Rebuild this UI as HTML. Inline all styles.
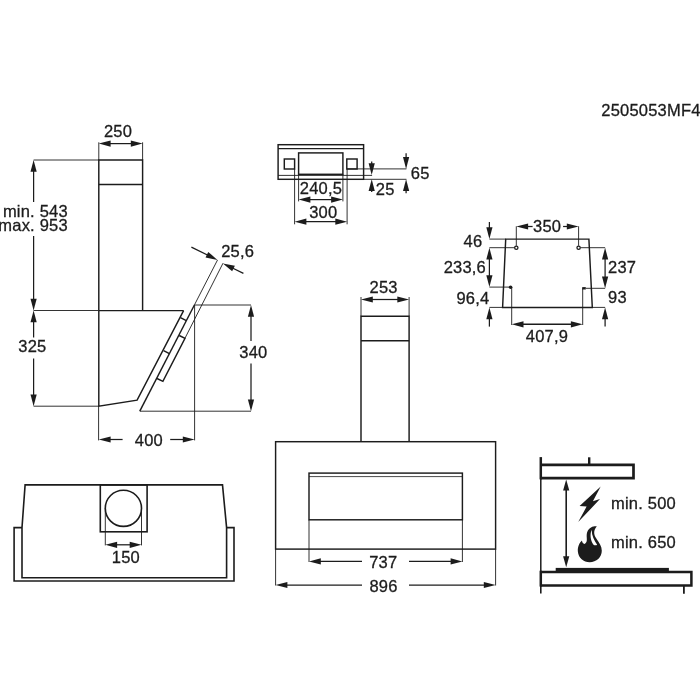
<!DOCTYPE html>
<html><head><meta charset="utf-8"><title>Dimensions 2505053MF4</title>
<style>
html,body{margin:0;padding:0;background:#fff;}
body{width:700px;height:700px;overflow:hidden;}
svg{display:block;will-change:transform;}
svg text{font-family:"Liberation Sans",Arial,Helvetica,sans-serif;fill:#1c1c1c;stroke:#1c1c1c;stroke-width:0.3px;letter-spacing:0.2px;}
</style></head><body>
<svg width="700" height="700" viewBox="0 0 700 700">
<rect x="0" y="0" width="700" height="700" fill="#fff"/>
<text x="601.3" y="115.5" font-size="16.5" text-anchor="start">2505053MF4</text>
<path d="M98.8 310.6 L98.8 160 L142.6 160 L142.6 310.6" fill="none" stroke="#1c1c1c" stroke-width="1.45" stroke-linejoin="miter"/>
<line x1="98.8" y1="184.4" x2="142.6" y2="184.4" stroke="#1c1c1c" stroke-width="1.45" stroke-linecap="butt"/>
<path d="M98.8 310.6 L183.6 310.6" fill="none" stroke="#1c1c1c" stroke-width="1.45" stroke-linejoin="miter"/>
<path d="M98.8 310.6 L98.8 406.2 L137.1 400.2 L183.6 310.6" fill="none" stroke="#1c1c1c" stroke-width="1.45" stroke-linejoin="miter"/>
<path d="M194.4 305 L139.8 411.2" fill="none" stroke="#1c1c1c" stroke-width="1.45" stroke-linejoin="miter"/>
<path d="M180.5 317.6 L186.3 320.7" fill="none" stroke="#1c1c1c" stroke-width="1.45" stroke-linejoin="miter"/>
<path d="M163.6 350.6 L169.4 353.7" fill="none" stroke="#1c1c1c" stroke-width="1.45" stroke-linejoin="miter"/>
<path d="M179.2 335.5 L185.0 338.4 L162.9 381.4 L157.0 378.5" fill="none" stroke="#1c1c1c" stroke-width="1.45" stroke-linejoin="miter"/>
<line x1="217.5" y1="260" x2="194.4" y2="305" stroke="#1c1c1c" stroke-width="0.9" stroke-linecap="butt"/>
<line x1="223" y1="263.2" x2="185.0" y2="338.2" stroke="#1c1c1c" stroke-width="0.9" stroke-linecap="butt"/>
<line x1="191.4" y1="247.1" x2="209.02" y2="255.74" stroke="#1c1c1c" stroke-width="1.25" stroke-linecap="butt"/>
<polygon points="217.50,259.90 205.54,257.49 208.27,251.92" fill="#1c1c1c"/>
<line x1="243.4" y1="273.4" x2="231.38" y2="267.54" stroke="#1c1c1c" stroke-width="1.25" stroke-linecap="butt"/>
<polygon points="222.90,263.40 234.86,265.79 232.15,271.36" fill="#1c1c1c"/>
<text x="221.2" y="256.9" font-size="16.5" text-anchor="start">25,6</text>
<line x1="98.8" y1="142.3" x2="98.8" y2="160" stroke="#1c1c1c" stroke-width="0.9" stroke-linecap="butt"/>
<line x1="142.6" y1="142.3" x2="142.6" y2="160" stroke="#1c1c1c" stroke-width="0.9" stroke-linecap="butt"/>
<line x1="108.24" y1="143.6" x2="133.16" y2="143.6" stroke="#1c1c1c" stroke-width="1.25" stroke-linecap="butt"/>
<polygon points="142.60,143.60 130.80,146.70 130.80,140.50" fill="#1c1c1c"/>
<polygon points="98.80,143.60 110.60,140.50 110.60,146.70" fill="#1c1c1c"/>
<text x="118.0" y="136.6" font-size="16.5" text-anchor="middle">250</text>
<line x1="33.6" y1="160" x2="98.8" y2="160" stroke="#1c1c1c" stroke-width="0.9" stroke-linecap="butt"/>
<line x1="33.6" y1="310.5" x2="98.8" y2="310.5" stroke="#1c1c1c" stroke-width="0.9" stroke-linecap="butt"/>
<line x1="33.6" y1="406.2" x2="98.8" y2="406.2" stroke="#1c1c1c" stroke-width="0.9" stroke-linecap="butt"/>
<line x1="33.6" y1="202" x2="33.6" y2="169.44" stroke="#1c1c1c" stroke-width="1.25" stroke-linecap="butt"/>
<polygon points="33.60,160.00 36.70,171.80 30.50,171.80" fill="#1c1c1c"/>
<line x1="33.6" y1="236" x2="33.6" y2="301.06" stroke="#1c1c1c" stroke-width="1.25" stroke-linecap="butt"/>
<polygon points="33.60,310.50 30.50,298.70 36.70,298.70" fill="#1c1c1c"/>
<line x1="33.6" y1="337.5" x2="33.6" y2="319.94" stroke="#1c1c1c" stroke-width="1.25" stroke-linecap="butt"/>
<polygon points="33.60,310.50 36.70,322.30 30.50,322.30" fill="#1c1c1c"/>
<line x1="33.6" y1="358.5" x2="33.6" y2="396.76" stroke="#1c1c1c" stroke-width="1.25" stroke-linecap="butt"/>
<polygon points="33.60,406.20 30.50,394.40 36.70,394.40" fill="#1c1c1c"/>
<text x="67.8" y="216.6" font-size="16.5" text-anchor="end">min. 543</text>
<text x="67.8" y="230.8" font-size="16.5" text-anchor="end">max. 953</text>
<text x="46.4" y="352.4" font-size="16.5" text-anchor="end">325</text>
<line x1="98.6" y1="406.2" x2="98.6" y2="440.4" stroke="#1c1c1c" stroke-width="0.9" stroke-linecap="butt"/>
<line x1="194.6" y1="305" x2="194.6" y2="440.4" stroke="#1c1c1c" stroke-width="0.9" stroke-linecap="butt"/>
<line x1="122.6" y1="439.5" x2="108.24" y2="439.5" stroke="#1c1c1c" stroke-width="1.25" stroke-linecap="butt"/>
<polygon points="98.80,439.50 110.60,436.40 110.60,442.60" fill="#1c1c1c"/>
<line x1="170.2" y1="439.5" x2="185.16" y2="439.5" stroke="#1c1c1c" stroke-width="1.25" stroke-linecap="butt"/>
<polygon points="194.60,439.50 182.80,442.60 182.80,436.40" fill="#1c1c1c"/>
<text x="148.9" y="445.5" font-size="16.5" text-anchor="middle">400</text>
<line x1="194.6" y1="305" x2="251" y2="305" stroke="#1c1c1c" stroke-width="0.9" stroke-linecap="butt"/>
<line x1="139.8" y1="411.2" x2="251" y2="411.2" stroke="#1c1c1c" stroke-width="0.9" stroke-linecap="butt"/>
<line x1="251" y1="341" x2="251.0" y2="314.44" stroke="#1c1c1c" stroke-width="1.25" stroke-linecap="butt"/>
<polygon points="251.00,305.00 254.10,316.80 247.90,316.80" fill="#1c1c1c"/>
<line x1="251" y1="363.6" x2="251.0" y2="401.76" stroke="#1c1c1c" stroke-width="1.25" stroke-linecap="butt"/>
<polygon points="251.00,411.20 247.90,399.40 254.10,399.40" fill="#1c1c1c"/>
<text x="253.4" y="358.4" font-size="16.5" text-anchor="middle">340</text>
<rect x="278.1" y="144.7" width="85.5" height="34.6" fill="none" stroke="#1c1c1c" stroke-width="1.45"/>
<line x1="278.1" y1="148.6" x2="363.6" y2="148.6" stroke="#1c1c1c" stroke-width="1.1" stroke-linecap="butt"/>
<line x1="278.1" y1="175.4" x2="372.1" y2="175.4" stroke="#1c1c1c" stroke-width="0.9" stroke-linecap="butt"/>
<rect x="298.6" y="152.9" width="44.3" height="21.4" fill="none" stroke="#1c1c1c" stroke-width="1.45"/>
<rect x="284.3" y="159" width="10.3" height="10" fill="none" stroke="#1c1c1c" stroke-width="1.45"/>
<rect x="346.8" y="159" width="10.3" height="10" fill="none" stroke="#1c1c1c" stroke-width="1.45"/>
<line x1="298.6" y1="174.3" x2="298.6" y2="201.4" stroke="#1c1c1c" stroke-width="0.9" stroke-linecap="butt"/>
<line x1="342.9" y1="174.3" x2="342.9" y2="201.4" stroke="#1c1c1c" stroke-width="0.9" stroke-linecap="butt"/>
<line x1="294.6" y1="169" x2="294.6" y2="224.3" stroke="#1c1c1c" stroke-width="0.9" stroke-linecap="butt"/>
<line x1="347.1" y1="169" x2="347.1" y2="224.3" stroke="#1c1c1c" stroke-width="0.9" stroke-linecap="butt"/>
<line x1="308.04" y1="199.6" x2="333.46" y2="199.6" stroke="#1c1c1c" stroke-width="1.25" stroke-linecap="butt"/>
<polygon points="342.90,199.60 331.10,202.70 331.10,196.50" fill="#1c1c1c"/>
<polygon points="298.60,199.60 310.40,196.50 310.40,202.70" fill="#1c1c1c"/>
<line x1="304.04" y1="221.7" x2="337.66" y2="221.7" stroke="#1c1c1c" stroke-width="1.25" stroke-linecap="butt"/>
<polygon points="347.10,221.70 335.30,224.80 335.30,218.60" fill="#1c1c1c"/>
<polygon points="294.60,221.70 306.40,218.60 306.40,224.80" fill="#1c1c1c"/>
<text x="320.9" y="194.3" font-size="16.5" text-anchor="middle">240,5</text>
<text x="323.2" y="217.9" font-size="16.5" text-anchor="middle">300</text>
<line x1="347" y1="168.9" x2="406.4" y2="168.9" stroke="#1c1c1c" stroke-width="0.9" stroke-linecap="butt"/>
<line x1="363.6" y1="179.3" x2="406.4" y2="179.3" stroke="#1c1c1c" stroke-width="0.9" stroke-linecap="butt"/>
<line x1="371.7" y1="161.4" x2="371.7" y2="165.56" stroke="#1c1c1c" stroke-width="1.25" stroke-linecap="butt"/>
<polygon points="371.70,175.00 368.60,163.20 374.80,163.20" fill="#1c1c1c"/>
<line x1="371.7" y1="192.1" x2="371.7" y2="188.74" stroke="#1c1c1c" stroke-width="1.25" stroke-linecap="butt"/>
<polygon points="371.70,179.30 374.80,191.10 368.60,191.10" fill="#1c1c1c"/>
<line x1="406.1" y1="153.3" x2="406.1" y2="159.46" stroke="#1c1c1c" stroke-width="1.25" stroke-linecap="butt"/>
<polygon points="406.10,168.90 403.00,157.10 409.20,157.10" fill="#1c1c1c"/>
<line x1="406.1" y1="193.3" x2="406.1" y2="188.74" stroke="#1c1c1c" stroke-width="1.25" stroke-linecap="butt"/>
<polygon points="406.10,179.30 409.20,191.10 403.00,191.10" fill="#1c1c1c"/>
<text x="410.8" y="178.7" font-size="16.5" text-anchor="start">65</text>
<text x="375.8" y="194.7" font-size="16.5" text-anchor="start">25</text>
<path d="M502.6 307.4 L505.7 239.1 L588.9 239.1 L592.3 307.4 Z" fill="none" stroke="#1c1c1c" stroke-width="1.45" stroke-linejoin="miter"/>
<line x1="489.4" y1="239.1" x2="505.7" y2="239.1" stroke="#1c1c1c" stroke-width="0.9" stroke-linecap="butt"/>
<line x1="489.4" y1="247.7" x2="514.3" y2="247.7" stroke="#1c1c1c" stroke-width="0.9" stroke-linecap="butt"/>
<line x1="489.4" y1="287.1" x2="510.3" y2="287.1" stroke="#1c1c1c" stroke-width="0.9" stroke-linecap="butt"/>
<line x1="489.4" y1="307.4" x2="502.6" y2="307.4" stroke="#1c1c1c" stroke-width="0.9" stroke-linecap="butt"/>
<circle cx="516.3" cy="247.7" r="1.65" fill="#fff" stroke="#1c1c1c" stroke-width="1.3"/>
<circle cx="578.6" cy="247.7" r="1.65" fill="#fff" stroke="#1c1c1c" stroke-width="1.3"/>
<circle cx="510.6" cy="287.3" r="1.8" fill="#1c1c1c"/>
<line x1="582.2" y1="288.3" x2="585.8" y2="288.3" stroke="#1c1c1c" stroke-width="2.4" stroke-linecap="butt"/>
<line x1="511.7" y1="287.3" x2="511.7" y2="325" stroke="#1c1c1c" stroke-width="0.9" stroke-linecap="butt"/>
<line x1="582.7" y1="288.3" x2="582.7" y2="325" stroke="#1c1c1c" stroke-width="0.9" stroke-linecap="butt"/>
<line x1="516.3" y1="245.8" x2="516.3" y2="226.3" stroke="#1c1c1c" stroke-width="0.9" stroke-linecap="butt"/>
<line x1="578.6" y1="245.8" x2="578.6" y2="226.3" stroke="#1c1c1c" stroke-width="0.9" stroke-linecap="butt"/>
<line x1="532.6" y1="226.5" x2="525.74" y2="226.5" stroke="#1c1c1c" stroke-width="1.25" stroke-linecap="butt"/>
<polygon points="516.30,226.50 528.10,223.40 528.10,229.60" fill="#1c1c1c"/>
<line x1="563.1" y1="226.5" x2="569.16" y2="226.5" stroke="#1c1c1c" stroke-width="1.25" stroke-linecap="butt"/>
<polygon points="578.60,226.50 566.80,229.60 566.80,223.40" fill="#1c1c1c"/>
<text x="547.1" y="232.3" font-size="16.5" text-anchor="middle">350</text>
<line x1="489.4" y1="222" x2="489.4" y2="229.66" stroke="#1c1c1c" stroke-width="1.25" stroke-linecap="butt"/>
<polygon points="489.40,239.10 486.30,227.30 492.50,227.30" fill="#1c1c1c"/>
<line x1="489.4" y1="257.14" x2="489.4" y2="277.66" stroke="#1c1c1c" stroke-width="1.25" stroke-linecap="butt"/>
<polygon points="489.40,287.10 486.30,275.30 492.50,275.30" fill="#1c1c1c"/>
<polygon points="489.40,247.70 492.50,259.50 486.30,259.50" fill="#1c1c1c"/>
<line x1="489.4" y1="326.6" x2="489.4" y2="316.84" stroke="#1c1c1c" stroke-width="1.25" stroke-linecap="butt"/>
<polygon points="489.40,307.40 492.50,319.20 486.30,319.20" fill="#1c1c1c"/>
<text x="482.3" y="246.9" font-size="16.5" text-anchor="end">46</text>
<text x="486" y="272.9" font-size="16.5" text-anchor="end">233,6</text>
<text x="489.3" y="303.8" font-size="16.5" text-anchor="end">96,4</text>
<line x1="580.5" y1="247.7" x2="605.1" y2="247.7" stroke="#1c1c1c" stroke-width="0.9" stroke-linecap="butt"/>
<line x1="586" y1="288.3" x2="605.1" y2="288.3" stroke="#1c1c1c" stroke-width="0.9" stroke-linecap="butt"/>
<line x1="592.3" y1="307.4" x2="605.1" y2="307.4" stroke="#1c1c1c" stroke-width="0.9" stroke-linecap="butt"/>
<line x1="605.1" y1="257.14" x2="605.1" y2="278.86" stroke="#1c1c1c" stroke-width="1.25" stroke-linecap="butt"/>
<polygon points="605.10,288.30 602.00,276.50 608.20,276.50" fill="#1c1c1c"/>
<polygon points="605.10,247.70 608.20,259.50 602.00,259.50" fill="#1c1c1c"/>
<line x1="605.1" y1="326.6" x2="605.1" y2="316.84" stroke="#1c1c1c" stroke-width="1.25" stroke-linecap="butt"/>
<polygon points="605.10,307.40 608.20,319.20 602.00,319.20" fill="#1c1c1c"/>
<text x="608" y="273" font-size="16.5" text-anchor="start">237</text>
<text x="608" y="302.6" font-size="16.5" text-anchor="start">93</text>
<line x1="521.14" y1="324.3" x2="573.26" y2="324.3" stroke="#1c1c1c" stroke-width="1.4" stroke-linecap="butt"/>
<polygon points="582.70,324.30 570.90,327.40 570.90,321.20" fill="#1c1c1c"/>
<polygon points="511.70,324.30 523.50,321.20 523.50,327.40" fill="#1c1c1c"/>
<text x="547" y="341.6" font-size="16.5" text-anchor="middle">407,9</text>
<path d="M361 441.7 L361 316.3 L409.1 316.3 L409.1 441.7" fill="none" stroke="#1c1c1c" stroke-width="1.45" stroke-linejoin="miter"/>
<line x1="361" y1="340.8" x2="409.1" y2="340.8" stroke="#1c1c1c" stroke-width="1.45" stroke-linecap="butt"/>
<rect x="275.6" y="441.7" width="220" height="107.4" fill="none" stroke="#1c1c1c" stroke-width="1.45"/>
<rect x="309" y="473.1" width="153.4" height="46.7" fill="none" stroke="#1c1c1c" stroke-width="1.45"/>
<line x1="309" y1="476.6" x2="462.4" y2="476.6" stroke="#1c1c1c" stroke-width="0.8" stroke-linecap="butt"/>
<line x1="361" y1="297" x2="361" y2="316.3" stroke="#1c1c1c" stroke-width="0.9" stroke-linecap="butt"/>
<line x1="409.1" y1="297" x2="409.1" y2="316.3" stroke="#1c1c1c" stroke-width="0.9" stroke-linecap="butt"/>
<line x1="370.44" y1="299.5" x2="399.66" y2="299.5" stroke="#1c1c1c" stroke-width="1.25" stroke-linecap="butt"/>
<polygon points="409.10,299.50 397.30,302.60 397.30,296.40" fill="#1c1c1c"/>
<polygon points="361.00,299.50 372.80,296.40 372.80,302.60" fill="#1c1c1c"/>
<text x="383.6" y="292.6" font-size="16.5" text-anchor="middle">253</text>
<line x1="309" y1="519.8" x2="309" y2="562" stroke="#1c1c1c" stroke-width="0.9" stroke-linecap="butt"/>
<line x1="462.4" y1="519.8" x2="462.4" y2="562" stroke="#1c1c1c" stroke-width="0.9" stroke-linecap="butt"/>
<line x1="275.6" y1="549.1" x2="275.6" y2="585.5" stroke="#1c1c1c" stroke-width="0.9" stroke-linecap="butt"/>
<line x1="495.6" y1="549.1" x2="495.6" y2="585.5" stroke="#1c1c1c" stroke-width="0.9" stroke-linecap="butt"/>
<line x1="362" y1="561.4" x2="318.44" y2="561.4" stroke="#1c1c1c" stroke-width="1.25" stroke-linecap="butt"/>
<polygon points="309.00,561.40 320.80,558.30 320.80,564.50" fill="#1c1c1c"/>
<line x1="409" y1="561.4" x2="452.96" y2="561.4" stroke="#1c1c1c" stroke-width="1.25" stroke-linecap="butt"/>
<polygon points="462.40,561.40 450.60,564.50 450.60,558.30" fill="#1c1c1c"/>
<line x1="362" y1="585" x2="285.04" y2="585.0" stroke="#1c1c1c" stroke-width="1.25" stroke-linecap="butt"/>
<polygon points="275.60,585.00 287.40,581.90 287.40,588.10" fill="#1c1c1c"/>
<line x1="409" y1="585" x2="486.16" y2="585.0" stroke="#1c1c1c" stroke-width="1.25" stroke-linecap="butt"/>
<polygon points="495.60,585.00 483.80,588.10 483.80,581.90" fill="#1c1c1c"/>
<text x="383.2" y="568" font-size="16.5" text-anchor="middle">737</text>
<text x="383.5" y="591.6" font-size="16.5" text-anchor="middle">896</text>
<path d="M25.1 484.9 L222.5 484.9 L226.6 527.6 L226.6 577.7 L22.0 577.7 L22.0 527.6 Z" fill="none" stroke="#1c1c1c" stroke-width="1.6" stroke-linejoin="miter"/>
<path d="M22.0 527.6 L14.1 527.6 L14.1 581 L234 581 L234 527.6 L226.6 527.6" fill="none" stroke="#1c1c1c" stroke-width="1.6" stroke-linejoin="miter"/>
<rect x="100.3" y="484.9" width="46.8" height="46.9" fill="none" stroke="#1c1c1c" stroke-width="1.6"/>
<circle cx="123.4" cy="508.3" r="18.1" fill="none" stroke="#1c1c1c" stroke-width="1.6"/>
<line x1="105.3" y1="508" x2="105.3" y2="545.4" stroke="#1c1c1c" stroke-width="0.9" stroke-linecap="butt"/>
<line x1="141.5" y1="508" x2="141.5" y2="545.4" stroke="#1c1c1c" stroke-width="0.9" stroke-linecap="butt"/>
<line x1="114.74" y1="544.8" x2="132.06" y2="544.8" stroke="#1c1c1c" stroke-width="1.25" stroke-linecap="butt"/>
<polygon points="141.50,544.80 129.70,547.90 129.70,541.70" fill="#1c1c1c"/>
<polygon points="105.30,544.80 117.10,541.70 117.10,547.90" fill="#1c1c1c"/>
<text x="125.9" y="562.5" font-size="16.5" text-anchor="middle">150</text>
<line x1="540.8" y1="457.1" x2="540.8" y2="479.4" stroke="#1c1c1c" stroke-width="2.5" stroke-linecap="butt"/>
<line x1="540.8" y1="479" x2="540.8" y2="571" stroke="#1c1c1c" stroke-width="1.5" stroke-linecap="butt"/>
<line x1="540.8" y1="570.7" x2="540.8" y2="586.6" stroke="#1c1c1c" stroke-width="2.5" stroke-linecap="butt"/>
<line x1="540.8" y1="586" x2="540.8" y2="593.6" stroke="#1c1c1c" stroke-width="1.6" stroke-linecap="butt"/>
<path d="M540.8 464.8 L633.5 464.8 L633.5 478.1 L540.8 478.1" fill="none" stroke="#1c1c1c" stroke-width="2.7" stroke-linejoin="miter"/>
<line x1="589.2" y1="457.3" x2="589.2" y2="464.8" stroke="#1c1c1c" stroke-width="2.4" stroke-linecap="butt"/>
<path d="M540.8 571.9 L691.4 571.9 L691.4 585.4 L540.8 585.4" fill="none" stroke="#1c1c1c" stroke-width="2.5" stroke-linejoin="miter"/>
<rect x="555.7" y="567.9" width="113.2" height="4.6" fill="#1c1c1c"/>
<line x1="683.9" y1="585.4" x2="683.9" y2="593.7" stroke="#1c1c1c" stroke-width="1.8" stroke-linecap="butt"/>
<line x1="566.2" y1="488.2" x2="566.2" y2="558.4" stroke="#1c1c1c" stroke-width="1.6" stroke-linecap="butt"/>
<polygon points="566.20,567.20 563.10,556.20 569.30,556.20" fill="#1c1c1c"/>
<polygon points="566.20,479.40 569.30,490.40 563.10,490.40" fill="#1c1c1c"/>
<polygon points="600.7,486.4 579.6,506.1 586.6,506.6 578.2,522.1 600,499.1 592.9,501.3" fill="#1c1c1c"/>
<path d="M596.79 526.29 C593.57 526.07 589.29 526.79 587.14 532.14 C585.86 536.43 587.86 540.00 586.07 542.50 C585.36 543.93 584.29 544.29 583.57 543.57 C582.50 542.86 582.14 541.79 582.00 540.57 C579.29 542.86 577.50 547.14 577.86 551.43 C578.43 557.86 583.57 562.14 589.64 562.14 C596.43 562.14 601.79 557.14 601.79 550.71 C601.79 546.43 599.29 542.86 596.79 539.29 C594.29 535.71 592.50 531.43 596.79 526.29 Z" fill="#1c1c1c"/>
<path d="M591.64 529.86 C589.86 534.29 590.36 540.36 593.29 544.50 C594.64 545.71 596.43 545.57 597.14 544.64 C594.29 540.71 591.79 535.71 591.64 530.00 Z" fill="#fff"/>
<text x="611" y="508.5" font-size="16.5" text-anchor="start">min. 500</text>
<text x="611" y="548" font-size="16.5" text-anchor="start">min. 650</text>
</svg>
</body></html>
